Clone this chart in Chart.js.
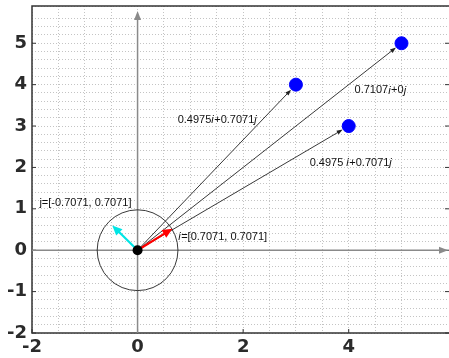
<!DOCTYPE html>
<html><head><meta charset="utf-8">
<script src="https://cdn.jsdelivr.net/npm/chart.js@4"></script>
<style>html,body{margin:0;padding:0;background:#fff;}canvas{display:block;}</style>
</head><body>
<canvas id="c" width="449" height="358"></canvas>
<script>
// ---- data ----
const vectorX = [3, 5, 4];
const vectorY = [4, 5, 3];
const basisI = [0.66, 0.52];   // red arrow (drawn length)
const basisJ = [-0.48, 0.60];  // cyan arrow (drawn length)
const xTickLabels = [-2, 0, 2, 4];
const yTickLabels = [-2, -1, 0, 1, 2, 3, 4, 5];
const annotationText = [
  [["0.4975", false], ["i", true], ["+0.7071", false], ["j", true]],
  [["0.7107", false], ["i", true], ["+0", false], ["j", true]],
  [["0.4975 ", false], ["i", true], ["+0.7071", false], ["j", true]],
  [["j=[-0.7071, 0.7071]", false]],
  [["i", true], ["=[0.7071, 0.7071]", false]]
];
const annotationX = [0.76, 4.11, 3.26, -1.86, 0.77];
const annotationY = [3.14, 3.86, 2.10, 1.13, 0.31];

const points = vectorX.map((x, k) => ({x: x, y: vectorY[k]}));

function arrowHead(ctx, x0, y0, x1, y1, len, wid, color) {
  const a = Math.atan2(y1 - y0, x1 - x0);
  ctx.fillStyle = color;
  ctx.beginPath();
  ctx.moveTo(x1, y1);
  ctx.lineTo(x1 - len * Math.cos(a) + wid * Math.sin(a), y1 - len * Math.sin(a) - wid * Math.cos(a));
  ctx.lineTo(x1 - len * Math.cos(a) - wid * Math.sin(a), y1 - len * Math.sin(a) + wid * Math.cos(a));
  ctx.closePath();
  ctx.fill();
}

const drawPlugin = {
  id: 'vectors',
  beforeDatasetsDraw(chart) {
    const ctx = chart.ctx, xs = chart.scales.x, ys = chart.scales.y, ca = chart.chartArea;
    const ox = xs.getPixelForValue(0), oy = ys.getPixelForValue(0);
    ctx.save();
    // frame
    ctx.strokeStyle = '#333'; ctx.lineWidth = 1.5;
    ctx.strokeRect(ca.left, ca.top, ca.right - ca.left + 4, ca.bottom - ca.top);
    // inner major ticks
    ctx.lineWidth = 1;
    xTickLabels.forEach(v => {
      const px = xs.getPixelForValue(v);
      ctx.beginPath(); ctx.moveTo(px, ca.bottom); ctx.lineTo(px, ca.bottom - 4); ctx.stroke();
    });
    yTickLabels.forEach(v => {
      const py = ys.getPixelForValue(v);
      ctx.beginPath(); ctx.moveTo(ca.left, py); ctx.lineTo(ca.left + 4, py); ctx.stroke();
      ctx.beginPath(); ctx.moveTo(ca.right, py); ctx.lineTo(ca.right - 4, py); ctx.stroke();
    });
    // axes through origin with arrows
    ctx.strokeStyle = '#8a8a8a'; ctx.lineWidth = 1.5;
    ctx.beginPath(); ctx.moveTo(ox, ca.bottom); ctx.lineTo(ox, ca.top + 10); ctx.stroke();
    arrowHead(ctx, ox, ca.bottom, ox, ca.top + 5, 9, 3.5, '#8a8a8a');
    ctx.beginPath(); ctx.moveTo(ca.left, oy); ctx.lineTo(ca.right - 6, oy); ctx.stroke();
    arrowHead(ctx, ca.left, oy, ca.right - 1, oy, 9, 3.5, '#8a8a8a');
    // circle (radius = one y unit in pixels)
    const r = ys.getPixelForValue(0) - ys.getPixelForValue(1);
    ctx.strokeStyle = '#222'; ctx.lineWidth = 0.9;
    ctx.beginPath(); ctx.arc(ox, oy, r - 1, 0, Math.PI * 2); ctx.stroke();
    // black vectors
    points.forEach(p => {
      const px = xs.getPixelForValue(p.x), py = ys.getPixelForValue(p.y);
      const a = Math.atan2(py - oy, px - ox);
      const ex = px - 7 * Math.cos(a), ey = py - 7 * Math.sin(a);
      ctx.strokeStyle = '#222'; ctx.lineWidth = 0.9;
      ctx.beginPath(); ctx.moveTo(ox, oy); ctx.lineTo(ex - 4 * Math.cos(a), ey - 4 * Math.sin(a)); ctx.stroke();
      arrowHead(ctx, ox, oy, ex, ey, 6, 2.2, '#222');
    });
    ctx.restore();
  },
  afterDatasetsDraw(chart) {
    const ctx = chart.ctx, xs = chart.scales.x, ys = chart.scales.y;
    const ox = xs.getPixelForValue(0), oy = ys.getPixelForValue(0);
    ctx.save();
    [[basisI, '#ff0000'], [basisJ, '#00e5e5']].forEach(([v, col]) => {
      const px = xs.getPixelForValue(v[0]), py = ys.getPixelForValue(v[1]);
      const a = Math.atan2(py - oy, px - ox);
      ctx.strokeStyle = col; ctx.lineWidth = 2.2;
      ctx.beginPath(); ctx.moveTo(ox, oy); ctx.lineTo(px - 7 * Math.cos(a), py - 7 * Math.sin(a)); ctx.stroke();
      arrowHead(ctx, ox, oy, px, py, 10, 4.5, col);
    });
    // origin dot
    ctx.fillStyle = '#000';
    ctx.beginPath(); ctx.arc(ox, oy, 5, 0, Math.PI * 2); ctx.fill();
    // annotations
    ctx.fillStyle = '#111'; ctx.textBaseline = 'middle'; ctx.textAlign = 'left';
    annotationText.forEach((segs, k) => {
      let x = xs.getPixelForValue(annotationX[k]);
      const y = ys.getPixelForValue(annotationY[k]);
      segs.forEach(([t, it]) => {
        ctx.font = (it ? 'italic ' : '') + '11px "Liberation Sans", Arial, sans-serif';
        ctx.fillText(t, x, y);
        x += ctx.measureText(t).width + (it ? 0.5 : 0);
      });
    });
    ctx.restore();
  }
};

const isMult = (v, m) => Math.abs(v / m - Math.round(v / m)) < 1e-6;
const noPad = s => { s.paddingTop = 0; s.paddingBottom = 0; s.paddingLeft = 0; s.paddingRight = 0; };

new Chart(document.getElementById('c'), {
  type: 'scatter',
  data: { datasets: [{ data: points, backgroundColor: '#0000ff', borderColor: '#0000ff', pointRadius: 6.5, pointHoverRadius: 6.5 }] },
  options: {
    responsive: false, animation: false, devicePixelRatio: 1,
    layout: { autoPadding: false, padding: { top: 6, right: 0, left: 0, bottom: 0 } },
    plugins: { legend: { display: false }, tooltip: { enabled: false } },
    scales: {
      x: {
        type: 'linear', min: -2, max: 5.9,
        afterFit: s => { s.height = 25; noPad(s); },
        ticks: { stepSize: 0.5, autoSkip: false, maxRotation: 0, padding: 4,
          color: '#2b2b2b', font: { family: 'DejaVu Sans', weight: 'bold', size: 18 },
          callback: v => (isMult(v, 2) && xTickLabels.includes(Math.round(v)) ? String(Math.round(v)) : '') },
        grid: { color: '#c4c4c4', lineWidth: 1, drawTicks: false },
        border: { display: false, dash: [1, 2] }
      },
      y: {
        type: 'linear', min: -2, max: 5.9,
        afterFit: s => { s.width = 32; noPad(s); },
        ticks: { stepSize: 0.2, autoSkip: false, padding: 5,
          color: '#2b2b2b', font: { family: 'DejaVu Sans', weight: 'bold', size: 18 },
          callback: v => (isMult(v, 1) && yTickLabels.includes(Math.round(v)) ? String(Math.round(v)) : '') },
        grid: { color: '#c4c4c4', lineWidth: 1, drawTicks: false },
        border: { display: false, dash: [1, 2] }
      }
    }
  },
  plugins: [drawPlugin]
});
</script>
</body></html>
